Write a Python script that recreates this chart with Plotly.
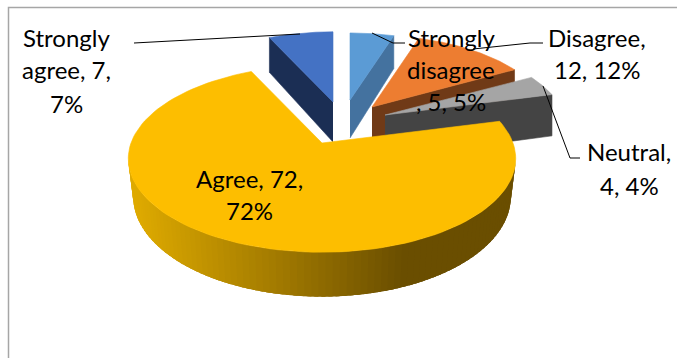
import numpy as np
import plotly.graph_objects as go

# Survey responses, in pie order (clockwise from twelve o'clock)
categories = ["Strongly disagree", "Disagree", "Neutral", "Agree", "Strongly agree"]
counts = [5, 12, 4, 72, 7]
percents = [5, 12, 4, 72, 7]

top_colors = ["#5B9BD5", "#ED7D31", "#A5A5A5", "#FDBE00", "#4472C4"]
cut_colors = ["#44729F", "#703A17", "#444444", None, "#1B2E54"]

# Exploded position of each slice tip, overall scale and extrusion depth
tips = [(350, 100), (372, 107), (385, 115), (322, 143), (333, 102)]
scales = [0.86, 0.92, 0.94, 1.0, 0.9]
depths = [38, 38, 43, 37, 40]
cut_side = ["end", "end", "end", None, "start"]

# Perspective projection of the pie plane
RX, RY, K = 191.0, 91.0, 0.167
BOTTOM_SHRINK = 0.975

total = sum(counts)
edges = np.cumsum([0] + counts) / total * 2 * np.pi


def project(theta, i):
    u, v = np.sin(theta), np.cos(theta)
    den = 1 + K * v
    tx, ty = tips[i]
    s = scales[i]
    return tx + RX * s * u / den, ty - RY * s * v / den, depths[i] * s / den if i == 3 else depths[i] / den


def poly(fig, xs, ys, color, edge=0.6):
    fig.add_trace(go.Scatter(
        x=list(xs), y=list(ys), mode="lines", fill="toself", fillcolor=color,
        line=dict(color=color, width=edge), hoverinfo="skip", showlegend=False,
    ))


def mix(a, b, t):
    return "rgb(%d,%d,%d)" % tuple(a[j] + (b[j] - a[j]) * t for j in range(3))


fig = go.Figure()

# Back-to-front draw order so nearer slices cover farther ones
for i in [4, 0, 1, 2, 3]:
    a0, a1 = edges[i], edges[i + 1]
    tx, ty = tips[i]

    if cut_side[i]:
        a = a1 if cut_side[i] == "end" else a0
        rx_, ry_, d = project(a, i)
        poly(fig, [tx, rx_, rx_, tx], [ty, ry_, ry_ + d, ty + depths[i]], cut_colors[i])

    if i == 3:
        # Outer wall of the large slice, shaded from left to right. Only the
        # front half between the two widest rim points can be seen; panels
        # overlap the next one to hide seams between them.
        front = np.arccos(-K)
        wall = np.linspace(front, 2 * np.pi - front, 90)
        for t0, t1 in zip(wall[:-1], wall[1:]):
            x0, y0, d0 = project(t0, i)
            x1, y1, d1 = project(min(t1 + 0.05, wall[-1]), i)
            bx0 = tx + (x0 - tx) * BOTTOM_SHRINK
            bx1 = tx + (x1 - tx) * BOTTOM_SHRINK
            f = np.clip((0.5 * (x0 + x1) - 134) / (400 - 134), 0, 1)
            color = mix((222, 170, 0), (106, 78, 0), f)
            poly(fig, [x0, x1, bx1, bx0], [y0, y1, y1 + d1, y0 + d0], color, edge=0)

    th = np.linspace(a0, a1, 120)
    px, py, _ = project(th, i)
    poly(fig, np.r_[tx, px, tx], np.r_[ty, py, ty], top_colors[i])

# Leader lines from outside labels to their slices
leaders = [
    ([134, 300], [43, 34]),
    ([372, 393, 405], [33, 43, 43]),
    ([543, 530, 473], [43, 43, 49]),
    ([543, 570, 580], [86, 158, 158]),
]
for lx, ly in leaders:
    fig.add_trace(go.Scatter(x=lx, y=ly, mode="lines", line=dict(color="#000000", width=1),
                             hoverinfo="skip", showlegend=False))

# Chart frame: only the top and left edges fall inside the window
fig.add_trace(go.Scatter(x=[8.5, 8.5, 677], y=[358, 7.5, 7.5], mode="lines",
                         line=dict(color="#A6A6A6", width=1.5), hoverinfo="skip", showlegend=False))

# Data labels, wrapped by hand
label_lines = [
    (451, [37, 69, 101], ["Strongly", "disagree", f", {counts[0]}, {percents[0]}%"]),
    (597, [37, 69], ["Disagree,", f"{counts[1]}, {percents[1]}%"]),
    (629, [151, 185], ["Neutral,", f"{counts[2]}, {percents[2]}%"]),
    (249, [178, 210], [f"Agree, {counts[3]},", f"{percents[3]}%"]),
    (66, [37, 69, 103], ["Strongly", f"agree, {counts[4]},", f"{percents[4]}%"]),
]
annotations = []
for cx, ys, texts in label_lines:
    for y, text in zip(ys, texts):
        annotations.append(dict(x=cx, y=y, text=text, showarrow=False, xref="x", yref="y",
                                xanchor="center", yanchor="middle",
                                font=dict(family="Lato, Carlito, sans-serif", size=24, color="#000000")))

fig.update_layout(
    width=677, height=358, margin=dict(l=0, r=0, t=0, b=0),
    paper_bgcolor="#FFFFFF", plot_bgcolor="#FFFFFF", annotations=annotations,
    xaxis=dict(range=[0, 677], visible=False, fixedrange=True),
    yaxis=dict(range=[358, 0], visible=False, fixedrange=True),
)
fig.write_html("out.html", config={"displayModeBar": False})
